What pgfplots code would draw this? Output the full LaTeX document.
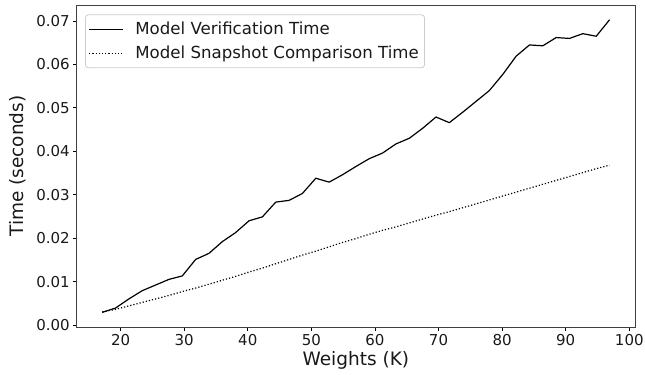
\documentclass[border=0pt]{standalone}
\usepackage{fontspec}
\setmainfont{DejaVu Sans}
\usepackage{pgfplots}
\usepackage{pgfplotstable}
\pgfplotsset{compat=1.18}
\pgfplotstableread{
x     ver     snap
17.1  0.0029  0.0030
19.2  0.0039  0.0036
21.3  0.0060  0.0044
23.4  0.0079  0.0052
25.5  0.0092  0.0060
27.6  0.0105  0.0068
29.7  0.0113  0.0077
31.8  0.0151  0.0085
33.9  0.0165  0.0094
36.0  0.0192  0.0103
38.1  0.0213  0.0112
40.2  0.0240  0.0122
42.3  0.0249  0.0131
44.4  0.0283  0.0141
46.5  0.0287  0.0151
48.6  0.0303  0.0161
50.7  0.0338  0.0170
52.8  0.0329  0.0180
54.9  0.0346  0.0190
57.0  0.0365  0.0199
59.1  0.0383  0.0209
61.2  0.0396  0.0218
63.3  0.0417  0.0226
65.4  0.0430  0.0235
67.5  0.0453  0.0244
69.6  0.0479  0.0253
71.7  0.0466  0.0261
73.8  0.0490  0.0270
75.9  0.0515  0.0279
78.0  0.0540  0.0288
80.1  0.0577  0.0297
82.2  0.0619  0.0306
84.3  0.0645  0.0315
86.4  0.0643  0.0324
88.5  0.0662  0.0333
90.6  0.0660  0.0342
92.7  0.0671  0.0351
94.8  0.0665  0.0360
96.9  0.0703  0.0368
}\datatable
\begin{document}
\begin{tikzpicture}
\begin{axis}[
  name=ax,
  scale only axis,
  width=558bp, height=322bp,
  xmin=13.1, xmax=100.9,
  ymin=-0.0005, ymax=0.0737,
  xtick={20,30,40,50,60,70,80,90,100},
  ytick={0,0.01,0.02,0.03,0.04,0.05,0.06,0.07},
  scaled y ticks=false,
  yticklabel style={/pgf/number format/fixed, /pgf/number format/fixed zerofill, /pgf/number format/precision=2},
  /pgf/number format/assume math mode=true,
  tick label style={font=\fontsize{15bp}{18bp}\selectfont, text=black!90},
  tick align=outside,
  xtick pos=lower, ytick pos=left,
  major tick length=3.5bp,
  every tick/.style={black, line width=0.8bp},
  axis line style={black!75, line width=0.8bp},
  xlabel={Weights (K)},
  ylabel={Time (seconds)},
  label style={font=\fontsize{18.5bp}{22bp}\selectfont, text=black!90},
  xlabel style={at={(axis description cs:0.5,-0.1025)}, anchor=center},
  ylabel style={at={(axis description cs:-0.105,0.5)}, anchor=center},
  legend cell align=left,
  legend image code/.code={\path[draw=none,fill=none] (0bp,-3bp) rectangle (43.6bp,3bp); \draw[#1] (0bp,0bp) -- (34bp,0bp);},
  legend style={at={(axis description cs:0.0149,0.971)}, anchor=north west,
    draw=black!20, rounded corners=3bp, line width=0.8bp,
    font=\fontsize{16.6bp}{20bp}\selectfont, text=black!90,
    inner xsep=3.2bp, inner ysep=3bp, row sep=1bp,
    nodes={inner xsep=2.5bp, inner ysep=0bp, text height=16.5bp, text depth=6.5bp}},
]
\addplot[black, line width=1.2bp, line join=round] table[x=x, y=ver] {\datatable};
\addlegendentry{Model Verification Time}
\addplot[black, line width=1.2bp, dash pattern=on 1.2bp off 2bp] table[x=x, y=snap] {\datatable};
\addlegendentry{Model Snapshot Comparison Time}
\end{axis}
\pgfresetboundingbox
\path ([shift={(-76.7bp,-47bp)}]ax.south west) rectangle ([shift={(10bp,5bp)}]ax.north east);
\end{tikzpicture}
\end{document}
